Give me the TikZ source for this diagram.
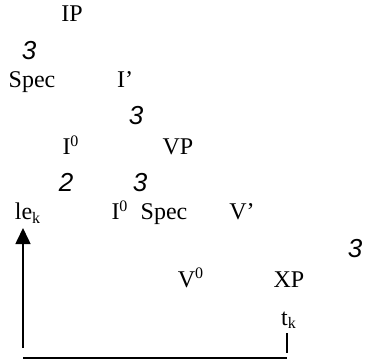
\documentclass[tikz,border=0pt]{standalone}
\usepackage{fontspec}
\setmainfont{Liberation Serif}
\newfontfamily\branchfont{Liberation Sans}
\usetikzlibrary{arrows.meta}
\tikzset{
  cat/.style={
    anchor=base,
    inner sep=0pt,
    font=\fontsize{12}{13}\selectfont,
  },
  branch/.style={
    anchor=base,
    inner sep=0pt,
    font=\branchfont\itshape\fontsize{13}{14}\selectfont,
  },
  move/.style={
    thick,
    line cap=butt,
  }
}

\begin{document}
\begin{tikzpicture}[x=0.5pt, y=-0.5pt]
  \useasboundingbox (0, 0) rectangle (367, 362);

  % categories
  \node[cat] (ip) at (72, 22) {IP};
  \node[cat] (spec1) at (32, 88) {Spec};
  \node[cat] (ibar) at (125, 88) {I’};
  \node[cat] (i1) at (71, 155) {I\textsuperscript{0}};
  \node[cat] (vp) at (178, 155) {VP};
  \node[cat] (le) at (28, 220) {le\textsubscript{k}};
  \node[cat] (i2) at (120, 220) {I\textsuperscript{0}};
  \node[cat] (spec2) at (164, 220) {Spec};
  \node[cat] (vbar) at (242, 220) {V’};
  \node[cat] (v0) at (191, 287) {V\textsuperscript{0}};
  \node[cat] (xp) at (289, 287) {XP};
  \node[cat] (tk) at (289, 325) {t\textsubscript{k}};

  % branches
  \foreach \n/\px/\py/\glyph in {
    b1/29/60/3,
    b2/136/125/3,
    b3/66/192/2,
    b4/140/192/3,
    b5/355/257/3
  }
    \node[branch, name=\n] at (\px, \py) {\glyph};

  % movement
  \coordinate (lefoot) at (23, 348);
  \coordinate (tktop) at (287, 333);
  \coordinate (tkfoot) at (287, 353);
  \coordinate (basel) at (23, 358);
  \coordinate (baser) at (287, 358);
  \draw[move, -{Triangle[length=8pt, width=7.5pt]}, shorten >=2pt]
    (lefoot) -- (lefoot |- le.south);
  \draw[move] (tktop) -- (tkfoot);
  \draw[move] (basel) -- (baser);

\end{tikzpicture}
\end{document}
